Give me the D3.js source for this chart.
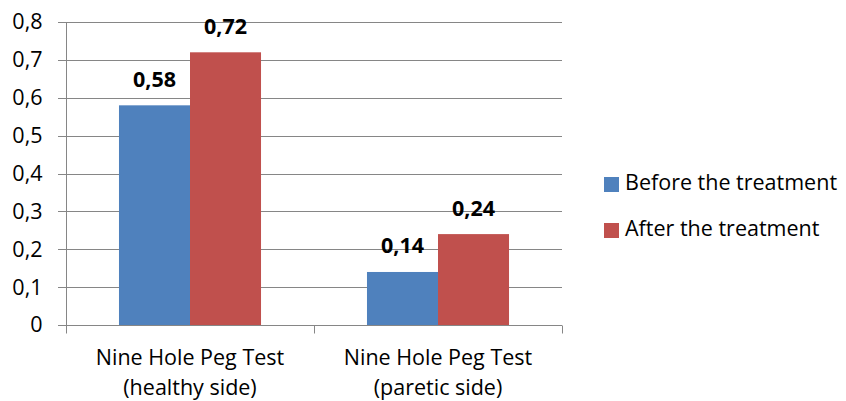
<!DOCTYPE html>
<html><head><meta charset="utf-8">
<script src="https://cdn.jsdelivr.net/npm/d3@7"></script>
<style>body{margin:0;background:#fff}svg{display:block}text{font-family:"Open Sans",sans-serif}</style>
</head><body>
<svg id="c" width="846" height="401"></svg>
<script>
const categories = [["Nine Hole Peg Test","(healthy side)"],["Nine Hole Peg Test","(paretic side)"]];
const seriesNames = ["Before the treatment","After the treatment"];
const before = [0.58, 0.14];
const after = [0.72, 0.24];
const yTicks = [0,0.1,0.2,0.3,0.4,0.5,0.6,0.7,0.8];
const colors = ["#4F81BD","#C0504D"];

const FS = "21.5px";
const svg = d3.select("#c");
const fmt = v => d3.format(".2~f")(v).replace(".", ",");
const y = d3.scaleLinear().domain([0,0.8]).range([325,22]);
const x0 = d3.scaleBand().domain(d3.range(categories.length)).range([66,562]);
const x1 = d3.scaleBand().domain(d3.range(seriesNames.length)).range([0,x0.bandwidth()]).paddingInner(0).paddingOuter(0.746);
const values = [before, after];

svg.append("g").selectAll("line").data(yTicks).join("line")
  .attr("x1",58).attr("x2",562).attr("y1",d=>Math.round(y(d))+0.5).attr("y2",d=>Math.round(y(d))+0.5)
  .attr("stroke","#868686").attr("stroke-width",1);

const yAxis = d3.axisLeft(y).tickValues(yTicks).tickFormat(d=>d===0?"0":fmt(d)).tickSize(0).tickPadding(24);
const ga = svg.append("g").attr("transform","translate(66.5,0)").call(yAxis);
ga.select(".domain").attr("stroke","#868686").attr("d","M0,22V325");
ga.selectAll("text").attr("font-size",FS).attr("fill","#000").attr("font-family","'Open Sans',sans-serif");

const g = svg.append("g");
values.forEach((vals,si)=>{
  g.selectAll(".b"+si).data(vals).join("rect")
    .attr("x",(d,i)=>x0(i)+x1(si)).attr("width",x1.bandwidth())
    .attr("y",d=>y(d)).attr("height",d=>y(0)-y(d)).attr("fill",colors[si]);
  g.selectAll(".l"+si).data(vals).join("text")
    .attr("x",(d,i)=>x0(i)+x1(si)+x1.bandwidth()/2).attr("y",d=>y(d)-18.5)
    .attr("text-anchor","middle").attr("font-weight","bold").attr("font-size",FS).text(d=>fmt(d));
});

const xAxis = d3.axisBottom(x0).tickSize(0).tickFormat("");
const gx = svg.append("g").attr("transform","translate(0,325.5)").call(xAxis);
gx.select(".domain").attr("stroke","#868686").attr("d","M66,0H562");
const tickPos = d3.range(categories.length+1).map(i=> i<categories.length ? x0(i) : x0.range()[1]);
gx.selectAll(".tk").data(tickPos).join("line").attr("class","tk")
  .attr("x1",d=>Math.round(d)+0.5).attr("x2",d=>Math.round(d)+0.5).attr("y1",0).attr("y2",8).attr("stroke","#868686");
categories.forEach((c,i)=>{
  const cx = x0(i)+x0.bandwidth()/2;
  const t = svg.append("text").attr("x",cx).attr("text-anchor","middle").attr("font-size",FS);
  t.append("tspan").attr("x",cx).attr("y",365).text(c[0]);
  t.append("tspan").attr("x",cx).attr("y",395).text(c[1]);
});

const lg = svg.append("g");
seriesNames.forEach((s,i)=>{
  lg.append("rect").attr("x",604).attr("y",177+i*46).attr("width",15).attr("height",15).attr("fill",colors[i]);
  lg.append("text").attr("x",625).attr("y",190+i*46).attr("font-size",FS).text(s);
});
</script>
</body></html>
